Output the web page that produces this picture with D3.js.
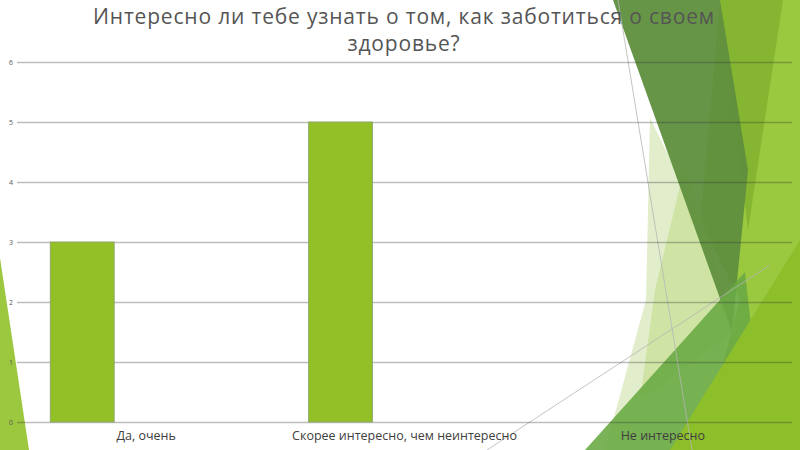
<!DOCTYPE html>
<html>
<head>
<meta charset="utf-8">
<script src="https://cdn.jsdelivr.net/npm/d3@7"></script>
<style>
	body { margin: 0; background: #fff; }
	svg { display: block; }
</style>
</head>
<body>
<div id="graphicContainer"></div>
<script>
var title = ["Интересно ли тебе узнать о том, как заботиться о своем", "здоровье?"]
var categories = ["Да, очень", "Скорее интересно, чем неинтересно", "Не интересно"]
var values = [3, 5, 0]
var yTicks = [0, 1, 2, 3, 4, 5, 6]

// theme decoration (slide background shapes)
var decor = [
	{ pts: [[720,0],[800,0],[800,450],[680,450]], fill: "#9ac83e", op: 1 },
	{ pts: [[720,0],[783,0],[748,230]], fill: "#86b532", op: 1 },
	{ pts: [[650,118],[740,300],[700,450],[605,450],[646,300]], fill: "#e2eecb", op: 1 },
	{ pts: [[685,165],[735,330],[640,400],[655,290]], fill: "#cfe4a4", op: 1 },
	{ pts: [[613,0],[720,0],[748,170],[732,332]], fill: "#5f8f3d", op: 0.95 },
	{ pts: [[585,450],[745,272],[765,450]], fill: "#6aaa45", op: 0.9 },
	{ pts: [[670,450],[800,450],[800,240]], fill: "#8dbf2b", op: 1 },
	{ pts: [[0,258],[0,450],[29,450]], fill: "#9cc83f", op: 1 }
]
var decorLines = [[[618,0],[692,450]], [[487,450],[770,265]]]

var width = 800, height = 450
var margin = {top: 62, right: 8, bottom: 28, left: 17}
var w = width - margin.left - margin.right
var h = height - margin.top - margin.bottom

var svg = d3.select("#graphicContainer").append("svg")
	.attr("width", width)
	.attr("height", height)

var bg = svg.append("g")
bg.selectAll("polygon")
	.data(decor)
	.enter().append("polygon")
	.attr("points", function(d) { return d.pts.join(" ") })
	.attr("fill", function(d) { return d.fill })
	.attr("opacity", function(d) { return d.op })

bg.selectAll("line")
	.data(decorLines)
	.enter().append("line")
	.attr("x1", function(d) { return d[0][0] })
	.attr("y1", function(d) { return d[0][1] })
	.attr("x2", function(d) { return d[1][0] })
	.attr("y2", function(d) { return d[1][1] })
	.attr("stroke", "#b5b5b5")
	.attr("stroke-width", 0.8)

var features = svg.append("g").attr("transform", "translate(" + margin.left + "," + margin.top + ")")

var x = d3.scaleBand().domain(categories).range([0, w])
var y = d3.scaleLinear().domain([0, 6]).range([h, 0])

// bars sit in the first of three slots inside each band (excel clustered layout)
var slot = d3.scaleBand().domain([0, 1, 2]).range([0, x.bandwidth()]).paddingOuter(0.52)

var yAxis = d3.axisLeft(y).tickValues(yTicks).tickFormat(d3.format("d")).tickSize(-w).tickPadding(3)

var gy = features.append("g")
	.attr("class", "y")
	.call(yAxis)

gy.select(".domain").remove()
gy.selectAll(".tick line")
	.attr("stroke", "#333")
	.attr("stroke-opacity", 0.32)
	.attr("stroke-width", 1.4)
gy.selectAll(".tick text")
	.attr("fill", "#595959")
	.style("font-family", "Open Sans, sans-serif")
	.style("font-size", "7px")
	.attr("x", -4)

features.selectAll(".bar")
	.data(values)
	.enter().append("rect")
	.attr("class", "bar")
	.attr("x", function(d, i) { return x(categories[i]) + slot(0) })
	.attr("y", function(d) { return y(d) })
	.attr("width", slot.bandwidth())
	.attr("height", function(d) { return y(0) - y(d) })
	.attr("fill", "#92c026")
	.attr("stroke", "#8a9f70")
	.attr("stroke-width", 0.8)

features.selectAll(".cat")
	.data(categories)
	.enter().append("text")
	.attr("class", "cat")
	.attr("x", function(d) { return x(d) + x.bandwidth() / 2 })
	.attr("y", h + 18)
	.attr("text-anchor", "middle")
	.attr("fill", "#404040")
	.style("font-family", "Open Sans, sans-serif")
	.style("font-size", "12.5px")
	.text(function(d) { return d })

var t = svg.append("g").attr("class", "title")
t.selectAll("text")
	.data(title)
	.enter().append("text")
	.attr("x", 404)
	.attr("y", function(d, i) { return 24 + i * 27 })
	.attr("text-anchor", "middle")
	.attr("fill", "#555")
	.style("font-family", "Open Sans, sans-serif")
	.style("font-size", "21px")
	.text(function(d) { return d })

// stretch the long title line to the width it takes in the slide
var first = t.select("text").node()
var ls = (622 - first.getComputedTextLength()) / title[0].length
t.selectAll("text").style("letter-spacing", ls + "px")
</script>
</body>
</html>
